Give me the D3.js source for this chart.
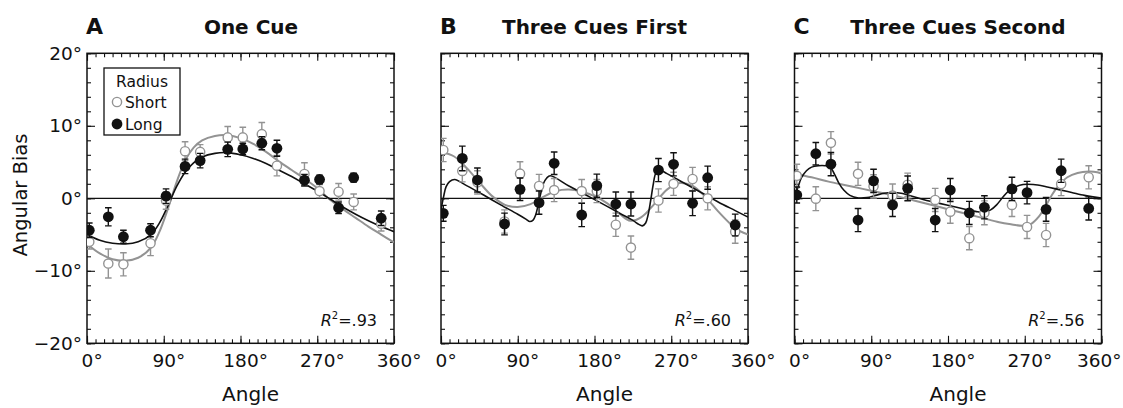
<!DOCTYPE html>
<html>
<head>
<meta charset="utf-8">
<script src="https://cdn.jsdelivr.net/npm/d3@7"></script>
<style>
  body { margin: 0; background: #fff; }
  text { font-family: "DejaVu Sans", sans-serif; fill: #111; }
</style>
</head>
<body>
<svg id="chart" width="1123" height="408"></svg>
<script>
// Stimulus angles (degrees), shared by all three conditions
const angles = [2.7, 25, 42.7, 74.5, 92.7, 115, 132.7, 165, 182.7, 205, 222.7, 255, 272.7, 295, 312.7, 345];

// One Cue
const oneShort    = [-6.0, -9.0, -9.1, -6.2, -0.3, 6.5, 6.4, 8.4, 8.4, 8.85, 4.5, 3.35, 1.0, 0.9, -0.5, -3.5];
const oneShortErr = [1.0, 2.0, 1.6, 1.7, 1.2, 1.3, 1.0, 1.5, 1.4, 1.6, 1.4, 1.55, 0.9, 1.15, 1.1, 1.0];
const oneLong     = [-4.4, -2.55, -5.3, -4.4, 0.3, 4.4, 5.2, 6.75, 6.8, 7.6, 6.9, 2.5, 2.6, -1.3, 2.85, -2.75];
const oneLongErr  = [1.0, 1.25, 0.9, 0.9, 1.0, 1.0, 1.0, 1.0, 0.8, 0.9, 1.1, 0.8, 0.6, 0.8, 0.6, 1.0];

// Three Cues First
const firstShort    = [6.66, 3.77, 2.2, -3.2, 3.4, 1.7, 1.14, 1.0, 1.0, -3.65, -6.8, -0.3, 2.0, 2.66, 0.0, -4.6];
const firstShortErr = [1.6, 1.5, 1.6, 1.6, 1.65, 1.6, 1.6, 1.6, 1.6, 1.6, 1.6, 1.6, 1.6, 1.6, 1.6, 1.6];
const firstLong     = [-2.07, 5.5, 2.52, -3.54, 1.24, -0.6, 4.83, -2.3, 1.74, -0.79, -0.79, 3.9, 4.69, -0.69, 2.84, -3.68];
const firstLongErr  = [1.1, 1.7, 1.65, 1.5, 1.55, 1.6, 1.55, 1.6, 1.6, 1.65, 1.65, 1.6, 1.6, 1.7, 1.6, 1.5];

// Three Cues Second
const secondShort    = [3.1, -0.05, 7.65, 3.38, 1.65, 0.38, 1.87, -0.23, -1.84, -5.5, -2.0, -0.92, -3.95, -5.06, 1.97, 2.9];
const secondShortErr = [1.6, 1.65, 1.55, 1.6, 1.6, 1.6, 1.6, 1.6, 1.6, 1.6, 1.65, 1.6, 1.6, 1.6, 1.6, 1.6];
const secondLong     = [0.46, 6.15, 4.71, -3.0, 2.41, -0.91, 1.37, -3.0, 1.14, -2.02, -1.24, 1.3, 0.78, -1.52, 3.8, -1.4];
const secondLongErr  = [1.1, 1.55, 1.6, 1.6, 1.6, 1.6, 1.7, 1.6, 1.6, 1.6, 1.6, 1.6, 1.55, 1.65, 1.6, 1.6];

// Model fits, [angle, bias]
const oneShortFit = [[0,-6.3],[15,-7.6],[30,-8.4],[45,-8.6],[60,-8.2],[75,-6.8],[85,-4.6],[95,-1.4],[105,2.2],[115,5.2],
  [125,7.0],[135,8.0],[150,8.6],[165,8.7],[180,8.3],[195,7.5],[210,6.4],[225,5.1],[240,3.9],[255,2.7],[270,1.4],
  [285,-0.2],[300,-1.5],[315,-2.7],[330,-3.9],[345,-5.0],[360,-6.1]];
const oneLongFit = [[0,-5.0],[15,-5.8],[30,-6.2],[45,-6.3],[60,-6.0],[75,-5.0],[85,-3.4],[95,-1.0],[105,1.6],[115,3.6],
  [125,4.9],[135,5.7],[150,6.2],[165,6.3],[180,6.0],[195,5.5],[210,4.8],[225,3.9],[240,3.0],[255,2.0],[270,1.0],
  [285,-0.1],[300,-1.2],[315,-2.2],[330,-3.1],[345,-3.9],[360,-4.6]];
const firstShortFit = [[0,6.4],[15,5.8],[30,4.2],[45,2.2],[60,0.3],[75,-0.9],[90,-1.2],[105,-0.8],[120,0.2],[135,1.0],
  [150,1.2],[165,0.9],[180,0.3],[195,-0.7],[210,-2.2],[222,-3.1],[235,-2.6],[250,-0.8],[265,1.2],[280,2.1],
  [295,1.7],[310,0.2],[325,-1.8],[340,-3.6],[350,-4.5],[360,-5.0]];
const firstLongFit = [[0,-1.6],[3,0.2],[6,1.6],[10,2.3],[16,2.6],[30,1.75],[50,0.45],[70,-0.9],[90,-2.2],[100,-2.9],
  [104,-3.2],[108,-3.0],[111,-2.3],[114,-0.9],[117,0.7],[120,2.0],[124,2.8],[128,3.1],[150,1.7],[170,0.45],
  [190,-0.8],[210,-2.1],[225,-3.05],[232,-3.6],[236,-3.8],[240,-3.4],[243,-2.2],[246,-0.2],[249,2.0],[252,3.5],
  [256,3.9],[265,3.4],[285,2.1],[305,0.8],[325,-0.5],[345,-1.7],[360,-2.6]];
const secondShortFit = [[0,3.4],[20,2.9],[40,2.3],[60,1.8],[80,1.3],[100,0.8],[120,0.3],[140,-0.3],[160,-0.9],
  [180,-1.5],[200,-2.1],[220,-2.7],[240,-3.3],[255,-3.6],[268,-3.8],[278,-3.5],[286,-2.6],[294,-1.2],[302,0.5],
  [310,1.8],[320,2.9],[332,3.5],[345,3.7],[355,3.6],[360,3.4]];
const secondLongFit = [[0,0.2],[4,1.5],[8,2.8],[14,3.8],[20,4.3],[28,4.5],[36,4.5],[42,4.3],[47,3.3],[52,2.1],
  [58,1.1],[65,0.4],[75,0.05],[85,0.1],[95,0.4],[105,0.7],[115,0.8],[125,0.7],[140,0.2],[155,-0.3],[170,-0.7],
  [185,-1.1],[200,-1.5],[212,-1.8],[222,-1.95],[230,-1.6],[237,-0.9],[244,0.1],[250,0.9],[258,1.5],[268,1.9],
  [280,1.9],[295,1.6],[310,1.2],[325,0.8],[340,0.4],[350,0.2],[360,0.05]];

const letters = ["A", "B", "C"];
const titles = ["One Cue", "Three Cues First", "Three Cues Second"];
const r2Labels = [".93", ".60", ".56"];
const xTickLabels = [0, 90, 180, 270, 360];
const yTickLabels = [-20, -10, 0, 10, 20];
const legendLabels = ["Short", "Long"];

const panels = [
  { short: oneShort, shortErr: oneShortErr, long: oneLong, longErr: oneLongErr, shortFit: oneShortFit, longFit: oneLongFit },
  { short: firstShort, shortErr: firstShortErr, long: firstLong, longErr: firstLongErr, shortFit: firstShortFit, longFit: firstLongFit },
  { short: secondShort, shortErr: secondShortErr, long: secondLong, longErr: secondLongErr, shortFit: secondShortFit, longFit: secondLongFit }
];

// layout
const panelLeft = [87, 441, 794.5];
const panelW = 307;
const plotTop = 53.3, plotBottom = 343.3;
const titleShift = [10.5, 0, 10];
const GREY = "#939393";

const svg = d3.select("#chart");
const defs = svg.append("defs");

panels.forEach((p, i) => {
  const x0 = panelLeft[i];
  const x = d3.scaleLinear().domain([0, 360]).range([x0, x0 + panelW]);
  const y = d3.scaleLinear().domain([-20, 20]).range([plotBottom, plotTop]);
  const g = svg.append("g");

  defs.append("clipPath").attr("id", "clip" + i)
    .append("rect").attr("x", x0).attr("y", plotTop).attr("width", panelW).attr("height", plotBottom - plotTop);

  // minor and major ticks on all four sides, pointing inward
  const minorX = d3.range(0, 361, 10), majorX = xTickLabels;
  const minorY = d3.range(-20, 21, 2), majorY = yTickLabels;
  const styleAxis = a => { a.select(".domain").remove(); a.selectAll("line").attr("stroke", "#111").attr("stroke-width", 1.1); };

  g.append("g").attr("transform", `translate(0,${plotBottom})`)
    .call(d3.axisBottom(x).tickValues(minorX).tickSize(-4).tickFormat("")).call(styleAxis);
  g.append("g").attr("transform", `translate(0,${plotTop})`)
    .call(d3.axisTop(x).tickValues(minorX).tickSize(-4).tickFormat("")).call(styleAxis);
  g.append("g").attr("transform", `translate(0,${plotTop})`)
    .call(d3.axisTop(x).tickValues(majorX).tickSize(-7.5).tickFormat("")).call(styleAxis);
  const xb = g.append("g").attr("transform", `translate(0,${plotBottom})`)
    .call(d3.axisBottom(x).tickValues(majorX).tickSize(-7.5).tickPadding(10.5).tickFormat(d => d + "°"))
    .call(styleAxis);
  xb.selectAll("text").attr("font-size", 18.5).attr("dx", "0.25em").attr("fill", "#111")
    .style("font-family", '"DejaVu Sans", sans-serif');
  if (i === panels.length - 1) {
    // keep the last label inside the figure
    xb.selectAll("text").filter(d => d === 360).attr("text-anchor", "end").attr("dx", 19.5);
  }

  g.append("g").attr("transform", `translate(${x0},0)`)
    .call(d3.axisLeft(y).tickValues(minorY).tickSize(-4).tickFormat("")).call(styleAxis);
  g.append("g").attr("transform", `translate(${x0 + panelW},0)`)
    .call(d3.axisRight(y).tickValues(minorY).tickSize(-4).tickFormat("")).call(styleAxis);
  g.append("g").attr("transform", `translate(${x0 + panelW},0)`)
    .call(d3.axisRight(y).tickValues(majorY).tickSize(-8).tickFormat("")).call(styleAxis);
  const yl = g.append("g").attr("transform", `translate(${x0},0)`)
    .call(d3.axisLeft(y).tickValues(majorY).tickSize(-8).tickPadding(5)
      .tickFormat(d => i === 0 ? (d < 0 ? "\u2212" + Math.abs(d) : d) + "°" : ""))
    .call(styleAxis);
  yl.selectAll("text").attr("font-size", 18.5).attr("fill", "#111")
    .style("font-family", '"DejaVu Sans", sans-serif');

  // frame
  g.append("rect").attr("x", x0).attr("y", plotTop).attr("width", panelW).attr("height", plotBottom - plotTop)
    .attr("fill", "none").attr("stroke", "#111").attr("stroke-width", 1.5);

  // zero line
  g.append("line").attr("x1", x(0)).attr("x2", x(360)).attr("y1", y(0)).attr("y2", y(0))
    .attr("stroke", "#111").attr("stroke-width", 1.2);

  const plot = g.append("g").attr("clip-path", `url(#clip${i})`);
  const line = d3.line().x(d => x(d[0])).y(d => y(d[1])).curve(d3.curveCatmullRom.alpha(0.5));
  plot.append("path").attr("d", line(p.shortFit)).attr("fill", "none").attr("stroke", GREY).attr("stroke-width", 2);
  plot.append("path").attr("d", line(p.longFit)).attr("fill", "none").attr("stroke", "#111").attr("stroke-width", 1.6);

  const drawSeries = (vals, errs, color, filled) => {
    const s = plot.append("g");
    vals.forEach((v, k) => {
      const cx = x(angles[k]);
      const yt = y(v + errs[k]), yb = y(v - errs[k]);
      s.append("line").attr("x1", cx).attr("x2", cx).attr("y1", yt).attr("y2", yb)
        .attr("stroke", color).attr("stroke-width", 1.4);
      [yt, yb].forEach(yy => s.append("line").attr("x1", cx - 3.3).attr("x2", cx + 3.3).attr("y1", yy).attr("y2", yy)
        .attr("stroke", color).attr("stroke-width", 1.4));
    });
    vals.forEach((v, k) => {
      s.append("circle").attr("cx", x(angles[k])).attr("cy", y(v))
        .attr("r", filled ? 5.4 : 4.6)
        .attr("fill", filled ? "#111" : "#fff")
        .attr("stroke", color).attr("stroke-width", filled ? 0 : 1.4);
    });
  };
  drawSeries(p.short, p.shortErr, GREY, false);
  drawSeries(p.long, p.longErr, "#111", true);

  // R² annotation
  const r2 = g.append("text").attr("x", x0 + panelW - 17).attr("y", 326).attr("text-anchor", "end")
    .attr("font-size", 16);
  r2.append("tspan").attr("font-style", "italic").text("R");
  r2.append("tspan").attr("font-size", 10).attr("dy", -7).text("2");
  r2.append("tspan").attr("dy", 7).text("=" + r2Labels[i]);

  // panel letter and title
  g.append("text").attr("x", x0 - 1).attr("y", 34).attr("font-size", 22).attr("font-weight", 700).text(letters[i]);
  g.append("text").attr("x", x0 + panelW / 2 + titleShift[i]).attr("y", 34).attr("text-anchor", "middle")
    .attr("font-size", 20).attr("font-weight", 700).text(titles[i]);

  // x-axis title
  g.append("text").attr("x", x0 + panelW / 2 + 10).attr("y", 401).attr("text-anchor", "middle")
    .attr("font-size", 20).text("Angle");
});

// y-axis title
svg.append("text").attr("transform", "translate(27,195) rotate(-90)").attr("text-anchor", "middle")
  .attr("font-size", 19.5).text("Angular Bias");

// legend
const lg = svg.append("g");
lg.append("rect").attr("x", 104).attr("y", 68).attr("width", 76).attr("height", 67)
  .attr("fill", "#fff").attr("stroke", "#111").attr("stroke-width", 1.3);
lg.append("text").attr("x", 142).attr("y", 87).attr("text-anchor", "middle").attr("font-size", 15.5).text("Radius");
legendLabels.forEach((lab, k) => {
  const yy = 102 + k * 22;
  lg.append("circle").attr("cx", 117).attr("cy", yy).attr("r", k === 0 ? 4.6 : 5.4)
    .attr("fill", k === 0 ? "#fff" : "#111").attr("stroke", k === 0 ? GREY : "none").attr("stroke-width", 1.4);
  lg.append("text").attr("x", 125).attr("y", yy + 6).attr("font-size", 15.5).text(lab);
});
</script>
</body>
</html>
